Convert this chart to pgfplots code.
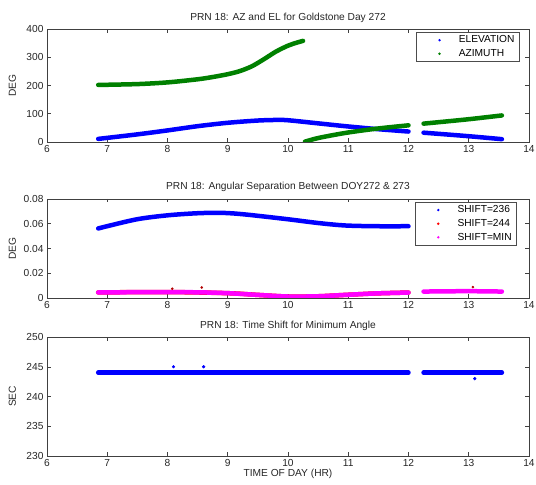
\documentclass[border=0pt]{standalone}
\usepackage{fontspec}
\setmainfont{Liberation Sans}
\usepackage{pgfplots}
\pgfplotsset{compat=1.18}
\definecolor{mblue}{rgb}{0,0,1}
\definecolor{mgreen}{rgb}{0,0.5,0}
\definecolor{mmag}{rgb}{1,0,1}
\definecolor{mred}{rgb}{1,0,0}
\pgfplotsset{
  mat/.style={
    scale only axis, width=482pt,
    xmin=6, xmax=14, xtick={6,...,14},
    tick align=inside, major tick length=3.5pt,
    axis line style={black!75, line width=0.6pt},
    tick style={black!75, line width=0.5pt},
    font=\fontsize{10.2}{12}\selectfont,
    tick label style={black!85},
    /pgf/number format/assume math mode=true,
    scaled y ticks=false,
    every axis title shift=0pt,
    title style={at={(axis description cs:0.5,1)}, anchor=base, yshift=9pt, black!85},
    every axis y label/.style={at={(axis description cs:-0.072,0.5)}, rotate=90, anchor=center, black!85},
    legend cell align=left,
    legend style={draw=black!70, line width=0.6pt, inner xsep=3pt, inner ysep=1.5pt,
      row sep=1pt, font=\fontsize{10.2}{12}\selectfont, anchor=north east},
    legend image code/.code={\path (0pt,0pt) (33pt,0pt); \fill[draw=none] (18pt,0pt) circle (1.35pt);},
    thickl/.style={line width=4.5pt, line cap=round, line join=round, smooth},
  }
}
\begin{document}
\begin{tikzpicture}
\useasboundingbox (0,0) rectangle (536pt,485pt);
% ---------------- top panel ----------------
\begin{axis}[mat, at={(47pt,343pt)}, anchor=south west, height=113pt,
  ymin=0, ymax=400, ytick={0,100,200,300,400},
  title={PRN 18: AZ and EL for Goldstone Day 272}, ylabel={DEG},
  legend style={at={(axis description cs:0.981,0.973)}}]
\addplot[mblue, thickl] coordinates {
 (6.85,11) (7.5,27) (8.0,41) (8.5,56) (9.0,68) (9.5,76) (9.8,78) (10.0,77)
 (10.5,66) (10.95,56) (11.46,46) (12.0,37)};
\addlegendentry{ELEVATION}
\addplot[mgreen, thickl] coordinates {
 (6.85,202) (7.5,205) (8.0,211) (8.5,222) (8.75,230) (9.0,240) (9.2,251) (9.4,268)
 (9.6,293) (9.8,320) (10.0,341) (10.15,352) (10.25,358)};
\addlegendentry{AZIMUTH}
\addplot[mblue, thickl, forget plot] coordinates {
 (12.25,33) (12.97,21) (13.55,10)};
\addplot[mgreen, thickl, forget plot] coordinates {
 (10.28,1) (10.5,14) (10.95,32) (11.46,47) (12.0,59)};
\addplot[mgreen, thickl, forget plot] coordinates {
 (12.25,65) (12.97,80) (13.55,94)};
\end{axis}
% ---------------- middle panel ----------------
\begin{axis}[mat, at={(47pt,187pt)}, anchor=south west, height=99pt,
  ymin=0, ymax=0.08, ytick={0,0.02,0.04,0.06,0.08},
  yticklabels={0,0.02,0.04,0.06,0.08},
  title={PRN 18: Angular Separation Between DOY272 \& 273}, ylabel={DEG},
  legend style={at={(axis description cs:0.975,0.97)}}]
\addplot[mblue, thickl] coordinates {
 (6.85,0.0562) (7.48,0.0635) (8.0,0.0668) (8.5,0.0685) (8.9,0.0688)
 (9.27,0.0676) (9.97,0.0638) (10.5,0.0606) (10.95,0.0586) (11.46,0.0580) (12.0,0.0580)};
\addlegendentry{SHIFT=236}
\addplot[mred, thickl] coordinates {
 (6.85,0.0045) (8.0,0.0048) (9.0,0.0039) (9.5,0.0025) (10.0,0.0012) (10.5,0.0014)
 (10.95,0.0025) (11.46,0.0037) (12.0,0.0044)};
\addlegendentry{SHIFT=244}
\addplot[mmag, thickl] coordinates {
 (6.85,0.0045) (8.0,0.0048) (8.6,0.0045) (9.0,0.0039) (9.5,0.0025) (10.0,0.0012) (10.5,0.0014)
 (10.95,0.0025) (11.46,0.0037) (12.0,0.0044)};
\addlegendentry{SHIFT=MIN}
\addplot[mmag, thickl, forget plot] coordinates {
 (12.25,0.0052) (12.97,0.0055) (13.55,0.0052)};
\addplot[mred!70!black, only marks, mark=*, mark size=1.1pt, forget plot] coordinates {
 (8.08,0.0075) (8.57,0.0085) (13.07,0.0088)};
\end{axis}
% ---------------- bottom panel ----------------
\begin{axis}[mat, at={(47pt,29pt)}, anchor=south west, height=119pt,
  ymin=230, ymax=250, ytick={230,235,240,245,250},
  title={PRN 18: Time Shift for Minimum Angle}, ylabel={SEC},
  xlabel={TIME OF DAY (HR)},
  xlabel style={at={(axis description cs:0.5,0)}, anchor=center, yshift=-18pt, black!85}]
\addplot[mblue, thickl] coordinates {(6.85,244) (12.0,244)};
\addplot[mblue, thickl] coordinates {(12.25,244) (13.55,244)};
\addplot[mblue, only marks, mark=*, mark size=1.4pt] coordinates {
 (8.1,245) (8.6,245) (13.1,243)};
\end{axis}
\end{tikzpicture}
\end{document}
